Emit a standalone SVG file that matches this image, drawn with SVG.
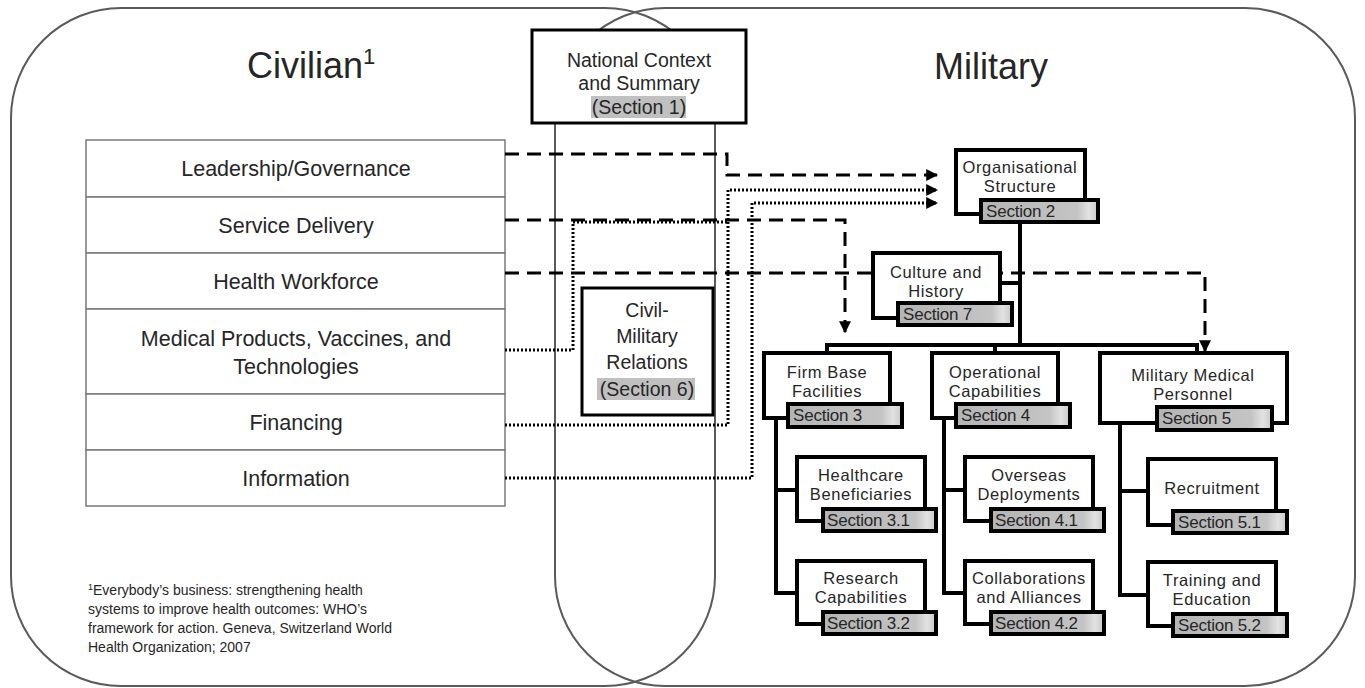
<svg xmlns="http://www.w3.org/2000/svg" width="1365" height="688" viewBox="0 0 1365 688">
<defs>
<linearGradient id="sec" x1="0" y1="0" x2="1" y2="0">
<stop offset="0" stop-color="#b4b4b4"/>
<stop offset="0.82" stop-color="#c4c4c4"/>
<stop offset="0.92" stop-color="#e2e2e2"/>
<stop offset="1" stop-color="#c8c8c8"/>
</linearGradient>
<marker id="arr" viewBox="0 0 10 10" refX="9" refY="5" markerWidth="4" markerHeight="4" orient="auto" markerUnits="strokeWidth">
<path d="M0,0 L10,5 L0,10 z" fill="#000"/>
</marker>
</defs>
<style>
text{font-family:"Liberation Sans",Arial,sans-serif;fill:#262626}
.big{font-size:36px}
.tbl{font-size:21.5px;text-anchor:middle}
.nd{font-size:16.5px;letter-spacing:0.6px;text-anchor:middle}
.nc{font-size:19.5px;text-anchor:middle}
.sc{font-size:17px;letter-spacing:-0.2px}
.fn{font-size:14px}
.venn{fill:none;stroke:#5a5a5a;stroke-width:2}
.row{fill:#fff;stroke:#7a7a7a;stroke-width:1.5}
.box{fill:#fff;stroke:#000;stroke-width:4}
.secb{fill:url(#sec);stroke:#000;stroke-width:4}
.tree{fill:none;stroke:#000;stroke-width:4}
.dash{fill:none;stroke:#000;stroke-width:3;stroke-dasharray:14 8}
.dot{fill:none;stroke:#000;stroke-width:3;stroke-dasharray:2 2}
.hl{fill:#c0c0c0}
</style>
<rect width="1365" height="688" fill="#fff"/>
<g id="venn">
<rect class="venn" x="11" y="8" width="704" height="678" rx="110" ry="110"/>
<rect class="venn" x="555" y="8" width="800" height="678" rx="110" ry="110"/>
</g>
<text class="big" x="247" y="78">Civilian<tspan font-size="22" dy="-14">1</tspan></text>
<text class="big" x="934" y="79" font-size="40">Military</text>
<g id="civilian-table">
<g id="leadership"><rect class="row" x="86" y="140" width="419" height="57"/><text class="tbl" x="296" y="176">Leadership/Governance</text></g>
<g id="service"><rect class="row" x="86" y="197" width="419" height="56"/><text class="tbl" x="296" y="233">Service Delivery</text></g>
<g id="workforce"><rect class="row" x="86" y="253" width="419" height="56"/><text class="tbl" x="296" y="289">Health Workforce</text></g>
<g id="medical"><rect class="row" x="86" y="309" width="419" height="85"/><text class="tbl" x="296" y="346">Medical Products, Vaccines, and</text><text class="tbl" x="296" y="374">Technologies</text></g>
<g id="financing"><rect class="row" x="86" y="394" width="419" height="56"/><text class="tbl" x="296" y="430">Financing</text></g>
<g id="information"><rect class="row" x="86" y="450" width="419" height="56"/><text class="tbl" x="296" y="486">Information</text></g>
</g>
<g id="national">
<rect x="532" y="30" width="214" height="93" fill="#fff" stroke="#000" stroke-width="3"/>
<rect class="hl" x="591" y="96" width="95" height="22"/>
<text class="nc" x="639" y="67">National Context</text>
<text class="nc" x="639" y="90">and Summary</text>
<text class="nc" x="639" y="114">(Section 1)</text>
</g>
<g id="connectors">
<path class="dot" d="M505,350 H573 V222 H728"/>
<path class="dot" d="M505,425 H728 V190 H937" marker-end="url(#arr)"/>
<path class="dot" d="M505,478 H752 V203 H937" marker-end="url(#arr)"/>
<path class="dash" d="M505,154 H727 V175 H937" marker-end="url(#arr)"/>
<path class="dash" d="M505,220 H845 V332" marker-end="url(#arr)"/>
<path class="dash" d="M505,273 H1205 V351" marker-end="url(#arr)"/>
<path class="tree" d="M1020,222 V345 M1000,283 H1020 M827,353 V345 H1197 V353 M995,345 V353"/>
<path class="tree" d="M776,418 V593 H797 M776,490 H797"/>
<path class="tree" d="M944,418 V593 H965 M944,490 H965"/>
<path class="tree" d="M1120,423 V595 H1148 M1120,491 H1148"/>
</g>
<g id="civil-military">
<rect x="582" y="288" width="131" height="127" fill="#fff" stroke="#000" stroke-width="3"/>
<rect class="hl" x="597" y="378" width="98" height="22"/>
<text class="nc" x="647" y="317">Civil-</text>
<text class="nc" x="647" y="343">Military</text>
<text class="nc" x="647" y="369">Relations</text>
<text class="nc" x="647" y="396">(Section 6)</text>
</g>
<g id="org-structure">
<rect class="box" x="956" y="150" width="129" height="64"/>
<text class="nd" x="1020" y="173">Organisational</text>
<text class="nd" x="1020" y="192">Structure</text>
<rect class="secb" x="981" y="200" width="117" height="22"/>
<text class="sc" x="986" y="217">Section 2</text>
</g>
<g id="culture">
<rect class="box" x="873" y="253" width="127" height="65"/>
<text class="nd" x="936" y="278">Culture and</text>
<text class="nd" x="936" y="297">History</text>
<rect class="secb" x="898" y="303" width="114" height="22"/>
<text class="sc" x="903" y="320">Section 7</text>
</g>
<g id="firm-base">
<rect class="box" x="764" y="353" width="126" height="65"/>
<text class="nd" x="827" y="378">Firm Base</text>
<text class="nd" x="827" y="397">Facilities</text>
<rect class="secb" x="788" y="404" width="114" height="23"/>
<text class="sc" x="793" y="421">Section 3</text>
</g>
<g id="operational">
<rect class="box" x="932" y="353" width="126" height="65"/>
<text class="nd" x="995" y="378">Operational</text>
<text class="nd" x="995" y="397">Capabilities</text>
<rect class="secb" x="956" y="404" width="114" height="23"/>
<text class="sc" x="961" y="421">Section 4</text>
</g>
<g id="medical-personnel">
<rect class="box" x="1100" y="353" width="187" height="70"/>
<text class="nd" x="1193" y="381">Military Medical</text>
<text class="nd" x="1193" y="400">Personnel</text>
<rect class="secb" x="1157" y="407" width="115" height="23"/>
<text class="sc" x="1162" y="424">Section 5</text>
</g>
<g id="healthcare">
<rect class="box" x="797" y="457" width="128" height="64"/>
<text class="nd" x="861" y="481">Healthcare</text>
<text class="nd" x="861" y="500">Beneficiaries</text>
<rect class="secb" x="823" y="509" width="113" height="22"/>
<text class="sc" x="827" y="526">Section 3.1</text>
</g>
<g id="research">
<rect class="box" x="797" y="561" width="128" height="63"/>
<text class="nd" x="861" y="584">Research</text>
<text class="nd" x="861" y="603">Capabilities</text>
<rect class="secb" x="823" y="612" width="113" height="22"/>
<text class="sc" x="827" y="629">Section 3.2</text>
</g>
<g id="overseas">
<rect class="box" x="965" y="457" width="128" height="64"/>
<text class="nd" x="1029" y="481">Overseas</text>
<text class="nd" x="1029" y="500">Deployments</text>
<rect class="secb" x="991" y="509" width="113" height="22"/>
<text class="sc" x="995" y="526">Section 4.1</text>
</g>
<g id="collaborations">
<rect class="box" x="965" y="561" width="128" height="63"/>
<text class="nd" x="1029" y="584" letter-spacing="0.2">Collaborations</text>
<text class="nd" x="1029" y="603">and Alliances</text>
<rect class="secb" x="991" y="612" width="113" height="22"/>
<text class="sc" x="995" y="629">Section 4.2</text>
</g>
<g id="recruitment">
<rect class="box" x="1148" y="459" width="128" height="66"/>
<text class="nd" x="1212" y="494">Recruitment</text>
<rect class="secb" x="1173" y="511" width="114" height="22"/>
<text class="sc" x="1178" y="528">Section 5.1</text>
</g>
<g id="training">
<rect class="box" x="1148" y="562" width="128" height="64"/>
<text class="nd" x="1212" y="586">Training and</text>
<text class="nd" x="1212" y="605">Education</text>
<rect class="secb" x="1173" y="614" width="114" height="22"/>
<text class="sc" x="1178" y="631">Section 5.2</text>
</g>
<g id="footnote">
<text class="fn" x="88" y="595"><tspan font-size="9" dy="-5">1</tspan><tspan dy="5">Everybody’s  business: strengthening health</tspan></text>
<text class="fn" x="88" y="614">systems to improve health outcomes: WHO’s</text>
<text class="fn" x="88" y="633">framework for action. Geneva, Switzerland World</text>
<text class="fn" x="88" y="652">Health Organization; 2007</text>
</g>
</svg>
